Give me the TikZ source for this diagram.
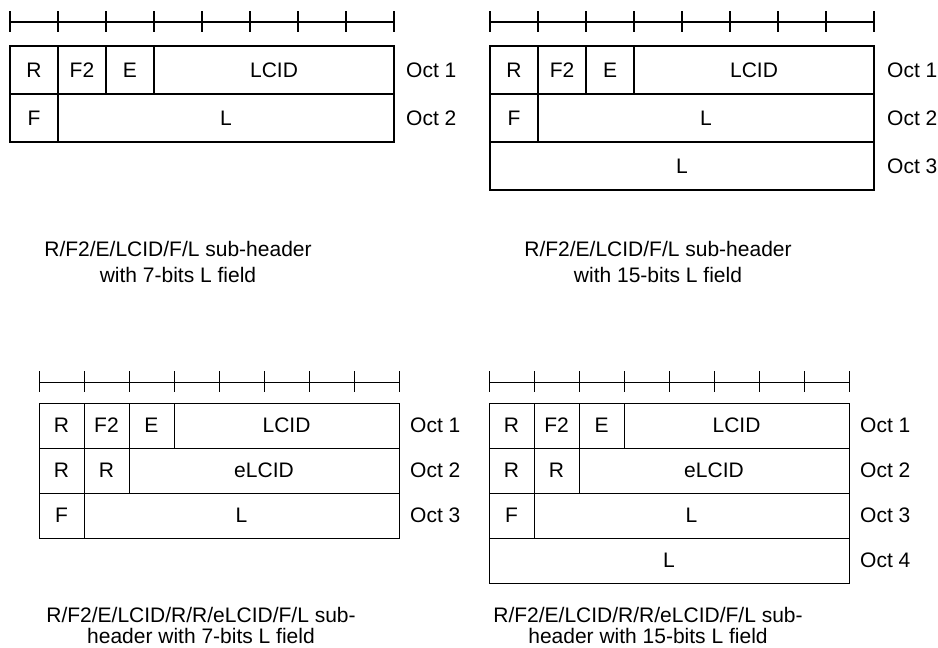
\documentclass[tikz,border=0pt]{standalone}
\usepackage{fontspec}
\setmainfont{Liberation Sans}
\usetikzlibrary{positioning}

\tikzset{
	field/.style 2 args={draw, anchor=north west, inner sep=0pt, outer sep=0pt,
		minimum width=#1, minimum height=#2, font=\fontsize{21}{26}\selectfont},
	octlabel/.style={inner sep=0pt, font=\fontsize{21}{26}\selectfont},
	caption/.style={align=center, inner sep=0pt, font=\fontsize{21}{#1}\selectfont},
}

\begin{document}
\begin{tikzpicture}[x=1pt,y=-1pt]
		\useasboundingbox (0,0) rectangle (938,648);

		% R/F2/E/LCID/F/L, 7-bits L
		\begin{scope}[line width=1.6pt]
		\draw (10,22) -- (394,22);
		\foreach \i in {0,...,8} \draw (10+48*\i,11) -- (10+48*\i,32);
		\node[field={48pt}{48pt}] (aR) at (10,46) {R};
		\node[field={48pt}{48pt}] (aF2) at (58,46) {F2};
		\node[field={48pt}{48pt}] (aE) at (106,46) {E};
		\node[field={240pt}{48pt}] (aLCID) at (154,46) {LCID};
		\node[field={48pt}{48pt}] (aF) at (10,94) {F};
		\node[field={336pt}{48pt}] (aL) at (58,94) {L};
		\end{scope}
		\node[octlabel, right=12pt of aLCID] (aO1) {Oct 1};
		\node[octlabel, right=12pt of aL] (aO2) {Oct 2};
		\node[caption=26] (acap) at (178,262) {R/F2/E/LCID/F/L sub-header\\with 7-bits L field};

		% R/F2/E/LCID/F/L, 15-bits L
		\begin{scope}[line width=1.6pt]
		\draw (490,22) -- (874,22);
		\foreach \i in {0,...,8} \draw (490+48*\i,11) -- (490+48*\i,32);
		\node[field={48pt}{48pt}] (bR) at (490,46) {R};
		\node[field={48pt}{48pt}] (bF2) at (538,46) {F2};
		\node[field={48pt}{48pt}] (bE) at (586,46) {E};
		\node[field={240pt}{48pt}] (bLCID) at (634,46) {LCID};
		\node[field={48pt}{48pt}] (bF) at (490,94) {F};
		\node[field={336pt}{48pt}] (bL) at (538,94) {L};
		\node[field={384pt}{48pt}] (bL2) at (490,142) {L};
		\end{scope}
		\node[octlabel, right=13pt of bLCID] (bO1) {Oct 1};
		\node[octlabel, right=13pt of bL] (bO2) {Oct 2};
		\node[octlabel, right=13pt of bL2] (bO3) {Oct 3};
		\node[caption=26] (bcap) at (658,262) {R/F2/E/LCID/F/L sub-header\\with 15-bits L field};

		% R/F2/E/LCID/R/R/eLCID/F/L, 7-bits L
		\begin{scope}[line width=1pt]
		\draw (39,382) -- (399,382);
		\foreach \i in {0,...,8} \draw (39+45*\i,371) -- (39+45*\i,392);
		\node[field={45pt}{45pt}] (cR) at (39,403) {R};
		\node[field={45pt}{45pt}] (cF2) at (84,403) {F2};
		\node[field={45pt}{45pt}] (cE) at (129,403) {E};
		\node[field={225pt}{45pt}] (cLCID) at (174,403) {LCID};
		\node[field={45pt}{45pt}] (cRa) at (39,448) {R};
		\node[field={45pt}{45pt}] (cRb) at (84,448) {R};
		\node[field={270pt}{45pt}] (ceLCID) at (129,448) {eLCID};
		\node[field={45pt}{45pt}] (cF) at (39,493) {F};
		\node[field={315pt}{45pt}] (cL) at (84,493) {L};
		\end{scope}
		\node[octlabel, right=11pt of cLCID] (cO1) {Oct 1};
		\node[octlabel, right=11pt of ceLCID] (cO2) {Oct 2};
		\node[octlabel, right=11pt of cL] (cO3) {Oct 3};
		\node[caption=21] (ccap) at (201,625) {R/F2/E/LCID/R/R/eLCID/F/L sub-\\header with 7-bits L field};

		% R/F2/E/LCID/R/R/eLCID/F/L, 15-bits L
		\begin{scope}[line width=1pt]
		\draw (489,382) -- (849,382);
		\foreach \i in {0,...,8} \draw (489+45*\i,371) -- (489+45*\i,392);
		\node[field={45pt}{45pt}] (dR) at (489,403) {R};
		\node[field={45pt}{45pt}] (dF2) at (534,403) {F2};
		\node[field={45pt}{45pt}] (dE) at (579,403) {E};
		\node[field={225pt}{45pt}] (dLCID) at (624,403) {LCID};
		\node[field={45pt}{45pt}] (dRa) at (489,448) {R};
		\node[field={45pt}{45pt}] (dRb) at (534,448) {R};
		\node[field={270pt}{45pt}] (deLCID) at (579,448) {eLCID};
		\node[field={45pt}{45pt}] (dF) at (489,493) {F};
		\node[field={315pt}{45pt}] (dL) at (534,493) {L};
		\node[field={360pt}{45pt}] (dL2) at (489,538) {L};
		\end{scope}
		\node[octlabel, right=11pt of dLCID] (dO1) {Oct 1};
		\node[octlabel, right=11pt of deLCID] (dO2) {Oct 2};
		\node[octlabel, right=11pt of dL] (dO3) {Oct 3};
		\node[octlabel, right=11pt of dL2] (dO4) {Oct 4};
		\node[caption=21] (dcap) at (648,625) {R/F2/E/LCID/R/R/eLCID/F/L sub-\\header with 15-bits L field};
	\end{tikzpicture}
\end{document}
